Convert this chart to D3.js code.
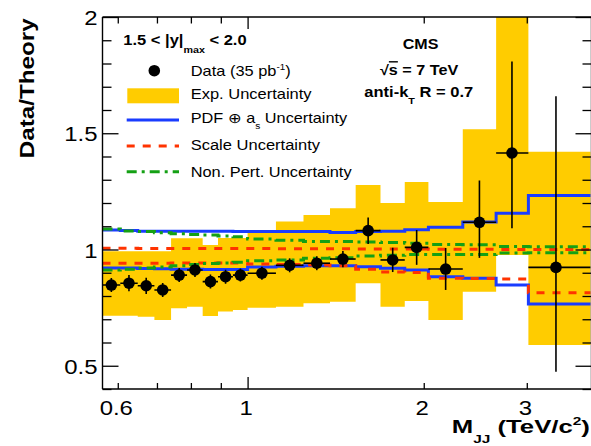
<!DOCTYPE html>
<html>
<head>
<meta charset="utf-8">
<script src="https://cdn.jsdelivr.net/npm/d3@7"></script>
<style>
  body { margin: 0; background: #fff; }
  svg { display: block; }
  text { font-family: "Liberation Sans", Arial, Helvetica, sans-serif; fill: #000; }
</style>
</head>
<body>
<svg id="chart" width="591" height="446"></svg>
<script>
// Dijet mass bins (TeV/c^2) and the measured Data/Theory ratio, 1.5 < |y|max < 2.0
const binEdges = [0.565, 0.606, 0.649, 0.693, 0.740, 0.788, 0.838, 0.890, 0.944, 1.000,
                  1.118, 1.246, 1.383, 1.530, 1.687, 1.856, 2.037, 2.332, 2.659, 3.019, 3.854];
const massCenters = [0.585, 0.627, 0.671, 0.716, 0.764, 0.813, 0.864, 0.917, 0.972, 1.058,
                     1.180, 1.313, 1.455, 1.607, 1.770, 1.945, 2.180, 2.490, 2.830, 3.365];
const ratio = [0.847, 0.855, 0.844, 0.826, 0.890, 0.912, 0.862, 0.883, 0.890, 0.898,
               0.932, 0.941, 0.959, 1.081, 0.955, 1.009, 0.916, 1.117, 1.415, 0.923];
const statDown = [0.030, 0.035, 0.035, 0.030, 0.030, 0.030, 0.030, 0.030, 0.028, 0.028,
                  0.030, 0.030, 0.035, 0.057, 0.052, 0.075, 0.090, 0.153, 0.324, 0.449];
const statUp = [0.030, 0.035, 0.035, 0.030, 0.030, 0.030, 0.030, 0.030, 0.028, 0.028,
                0.030, 0.030, 0.035, 0.057, 0.052, 0.075, 0.090, 0.180, 0.394, 0.736];

// Experimental uncertainty band (lower / upper edge per bin)
const expLow  = [0.715, 0.715, 0.711, 0.697, 0.747, 0.754, 0.714, 0.733, 0.740, 0.750,
                 0.754, 0.769, 0.775, 0.855, 0.754, 0.778, 0.697, 0.818, 0.976, 0.589];
const expHigh = [0.992, 0.992, 0.992, 0.992, 1.048, 1.048, 1.019, 1.050, 1.050, 1.080,
                 1.120, 1.148, 1.177, 1.277, 1.200, 1.290, 1.204, 1.517, 2.100, 1.420];

// Theory uncertainties around 1
const pdfLow    = [0.920, 0.920, 0.918, 0.917, 0.915, 0.915, 0.914, 0.914, 0.914, 0.925,
                   0.928, 0.930, 0.930, 0.926, 0.919, 0.912, 0.883, 0.876, 0.847, 0.766];
const pdfHigh   = [1.084, 1.082, 1.078, 1.078, 1.078, 1.078, 1.078, 1.078, 1.077, 1.077,
                   1.077, 1.077, 1.073, 1.077, 1.078, 1.085, 1.096, 1.118, 1.156, 1.232];
const scaleLow  = [0.941, 0.941, 0.941, 0.941, 0.942, 0.942, 0.942, 0.942, 0.942, 0.938,
                   0.935, 0.933, 0.930, 0.915, 0.903, 0.901, 0.876, 0.875, 0.873, 0.814];
const scaleHigh = [1.005, 1.005, 1.004, 1.004, 1.004, 1.004, 1.004, 1.004, 1.004, 1.004,
                   1.003, 1.003, 1.003, 1.002, 1.002, 1.002, 1.001, 1.001, 1.000, 1.000];
const npLow     = [0.912, 0.915, 0.920, 0.925, 0.930, 0.935, 0.940, 0.942, 0.945, 0.952,
                   0.955, 0.962, 0.964, 0.972, 0.975, 0.978, 0.978, 0.978, 0.985, 0.986];
const npHigh    = [1.088, 1.080, 1.077, 1.072, 1.068, 1.065, 1.062, 1.058, 1.055, 1.045,
                   1.040, 1.034, 1.034, 1.032, 1.030, 1.027, 1.022, 1.020, 1.013, 1.012];

// Axis ticks
const yMajorTicks = [0.5, 1, 1.5, 2];
const yMinorTicks = d3.range(4, 21).map(d => d / 10).filter(d => !yMajorTicks.includes(d));
const xLabelTicks = [0.6, 1, 2, 3];
const xMinorTicks = [0.6, 0.7, 0.8, 0.9, 2, 3];
const xMajorTicks = [1];

const svg = d3.select("#chart");
const frame = { left: 102.5, right: 591.5, top: 17, bottom: 389 };

const x = d3.scaleLog().domain([0.565, 3.87]).range([frame.left, frame.right]);
const y = d3.scaleLinear().domain([0.4, 2.0]).range([frame.bottom, frame.top]);

const colors = { exp: "#ffcc00", pdf: "#1a3cff", scale: "#ff3300", np: "#14a014" };

svg.append("defs").append("clipPath").attr("id", "plotClip")
  .append("rect")
  .attr("x", frame.left).attr("y", frame.top)
  .attr("width", frame.right - frame.left).attr("height", frame.bottom - frame.top);

const plot = svg.append("g").attr("clip-path", "url(#plotClip)");

// Step data: one point at each lower bin edge plus a closing point at the last edge
function steps(low, high) {
  const pts = low.map((lo, i) => ({ m: binEdges[i], lo, hi: high[i] }));
  pts.push({ m: binEdges[binEdges.length - 1], lo: low[low.length - 1], hi: high[high.length - 1] });
  return pts;
}

// Experimental uncertainty band
plot.append("path")
  .datum(steps(expLow, expHigh))
  .attr("fill", colors.exp)
  .attr("d", d3.area().curve(d3.curveStepAfter)
    .x(d => x(d.m)).y0(d => y(d.lo)).y1(d => y(d.hi)));

// Theory uncertainty step lines
function stepLine(low, high, color, dash) {
  const data = steps(low, high);
  ["lo", "hi"].forEach(k => {
    plot.append("path")
      .datum(data)
      .attr("fill", "none")
      .attr("stroke", color)
      .attr("stroke-width", 3)
      .attr("stroke-dasharray", dash)
      .attr("d", d3.line().curve(d3.curveStepAfter).x(d => x(d.m)).y(d => y(d[k])));
  });
}
stepLine(pdfLow, pdfHigh, colors.pdf, null);
stepLine(scaleLow, scaleHigh, colors.scale, "8,8");
stepLine(npLow, npHigh, colors.np, "10,5,3,5");

// Data points with statistical error bars and bin-width bars
const pts = plot.append("g").selectAll("g").data(ratio).join("g");
pts.append("line")
  .attr("x1", (d, i) => x(binEdges[i])).attr("x2", (d, i) => x(binEdges[i + 1]))
  .attr("y1", d => y(d)).attr("y2", d => y(d))
  .attr("stroke", "#000").attr("stroke-width", 1.6);
pts.append("line")
  .attr("x1", (d, i) => x(massCenters[i])).attr("x2", (d, i) => x(massCenters[i]))
  .attr("y1", (d, i) => y(d - statDown[i])).attr("y2", (d, i) => y(d + statUp[i]))
  .attr("stroke", "#000").attr("stroke-width", 1.6);
pts.append("circle")
  .attr("cx", (d, i) => x(massCenters[i])).attr("cy", d => y(d))
  .attr("r", 5.8).attr("fill", "#000");

// Ticks (all pointing into the frame)
function tickGroup(axis, tx, ty) {
  const g = svg.append("g").attr("transform", `translate(${tx},${ty})`).call(axis);
  g.select(".domain").remove();
  g.selectAll("line").attr("stroke", "#000").attr("stroke-width", 1.3);
  g.selectAll("text").remove();
  return g;
}
tickGroup(d3.axisRight(y).tickValues(yMinorTicks).tickSize(9), frame.left, 0);
tickGroup(d3.axisRight(y).tickValues(yMajorTicks).tickSize(16), frame.left, 0);
tickGroup(d3.axisLeft(y).tickValues(yMinorTicks).tickSize(9), frame.right, 0);
tickGroup(d3.axisLeft(y).tickValues(yMajorTicks).tickSize(16), frame.right, 0);
tickGroup(d3.axisTop(x).tickValues(xMinorTicks).tickSize(6), 0, frame.bottom);
tickGroup(d3.axisTop(x).tickValues(xMajorTicks).tickSize(12), 0, frame.bottom);
tickGroup(d3.axisBottom(x).tickValues(xMinorTicks).tickSize(6.5), 0, frame.top);
tickGroup(d3.axisBottom(x).tickValues(xMajorTicks).tickSize(12), 0, frame.top);

// Frame
const fr = svg.append("g").attr("stroke", "#000").attr("stroke-width", 1.4);
fr.append("line").attr("x1", frame.left).attr("x2", frame.left).attr("y1", frame.top).attr("y2", frame.bottom);
fr.append("line").attr("x1", frame.left).attr("x2", frame.right).attr("y1", frame.top).attr("y2", frame.top);
fr.append("line").attr("x1", frame.left).attr("x2", frame.right).attr("y1", frame.bottom).attr("y2", frame.bottom);
fr.append("line").attr("x1", frame.right).attr("x2", frame.right).attr("y1", frame.top).attr("y2", frame.bottom);

// Text helpers: rich text with sub/superscripts, horizontally fitted to a width
function richText(parent, segs, size, weight) {
  const t = parent.append("text").attr("font-size", size).attr("font-weight", weight || "normal");
  let shift = 0;
  segs.forEach(s => {
    const target = s.sub ? size * (s.shift || 0.35) : s.sup ? -size * (s.shift || 0.4) : 0;
    const sp = t.append("tspan").attr("dy", target - shift)
      .attr("font-size", (s.sub || s.sup) ? size * (s.scale || 0.62) : size)
      .text(s.t);
    if (s.over) sp.style("text-decoration", "overline");
    shift = target;
  });
  return t;
}
function fitText(segs, left, baseline, size, weight, width, rotate) {
  const g = svg.append("g");
  const t = richText(g, segs, size, weight);
  const w = t.node().getComputedTextLength();
  const sx = width ? width / w : 1;
  g.attr("transform", `translate(${left},${baseline})` + (rotate ? ` rotate(${rotate})` : "") + ` scale(${sx},1)`);
  return g;
}
function centeredText(str, cx, baseline, size, weight, sx) {
  const g = svg.append("g");
  const t = g.append("text").attr("font-size", size).attr("font-weight", weight).attr("text-anchor", "middle").text(str);
  g.attr("transform", `translate(${cx},${baseline}) scale(${sx},1)`);
  return t;
}
function endText(str, ex, baseline, size, weight, sx) {
  const g = svg.append("g");
  g.append("text").attr("font-size", size).attr("font-weight", weight).attr("text-anchor", "end").text(str);
  g.attr("transform", `translate(${ex},${baseline}) scale(${sx},1)`);
}

// Tick labels
const fmt = d3.format("");
xLabelTicks.forEach(v => centeredText(fmt(v), x(v) - 1.5, 415, 21, "normal", 1.14));
yMajorTicks.forEach(v => endText(fmt(v), 97.5, y(v) + 8, 21, "normal", 1.14));

// Axis titles
fitText([{ t: "Data/Theory" }], 33.5, 158.3, 21, "bold", 140, -90);
fitText([{ t: "M" }, { t: "JJ", sub: true, shift: 0.5, scale: 0.6 }, { t: " (TeV/c" },
         { t: "2", sup: true, shift: 0.45, scale: 0.6 }, { t: ")" }], 451.7, 433.3, 18.6, "bold", 138.3);

// Selection and experiment labels
fitText([{ t: "1.5 < |y|" }, { t: "max", sub: true, shift: 0.55, scale: 0.65 }, { t: " < 2.0" }],
        123.3, 45, 14, "bold", 123.4);
fitText([{ t: "CMS" }], 402.7, 49.3, 14, "bold", 35.7);
fitText([{ t: "\u221A" }, { t: "s", over: true }, { t: " = 7 TeV" }], 380, 75, 14, "bold", 78.3);
fitText([{ t: "anti-k" }, { t: "T", sub: true, shift: 0.5, scale: 0.65 }, { t: " R = 0.7" }],
        364.3, 96.7, 14, "bold", 109);

// Legend
const lg = svg.append("g");
lg.append("circle").attr("cx", 154.3).attr("cy", 70.7).attr("r", 5.8).attr("fill", "#000");
lg.append("rect").attr("x", 127.3).attr("y", 88.3).attr("width", 51.7).attr("height", 15).attr("fill", colors.exp);
lg.append("line").attr("x1", 126.7).attr("x2", 179).attr("y1", 120).attr("y2", 120)
  .attr("stroke", colors.pdf).attr("stroke-width", 3);
lg.append("line").attr("x1", 126.7).attr("x2", 179).attr("y1", 146).attr("y2", 146)
  .attr("stroke", colors.scale).attr("stroke-width", 3).attr("stroke-dasharray", "8,8");
lg.append("line").attr("x1", 126.7).attr("x2", 179).attr("y1", 171.7).attr("y2", 171.7)
  .attr("stroke", colors.np).attr("stroke-width", 3).attr("stroke-dasharray", "10,5,3,5");

fitText([{ t: "Data (35 pb" }, { t: "-1", sup: true, shift: 0.45, scale: 0.6 }, { t: ")" }], 190.7, 76, 14, "normal", 100);
fitText([{ t: "Exp. Uncertainty" }], 190.7, 99.3, 14, "normal", 121);
fitText([{ t: "PDF \u2295 a" }, { t: "s", sub: true, shift: 0.4, scale: 0.62 }, { t: " Uncertainty" }], 190.7, 123.3, 14, "normal", 156.6);
fitText([{ t: "Scale Uncertainty" }], 190.7, 150, 14, "normal", 129.3);
fitText([{ t: "Non. Pert. Uncertainty" }], 190.7, 176.7, 14, "normal", 161);
</script>
</body>
</html>
